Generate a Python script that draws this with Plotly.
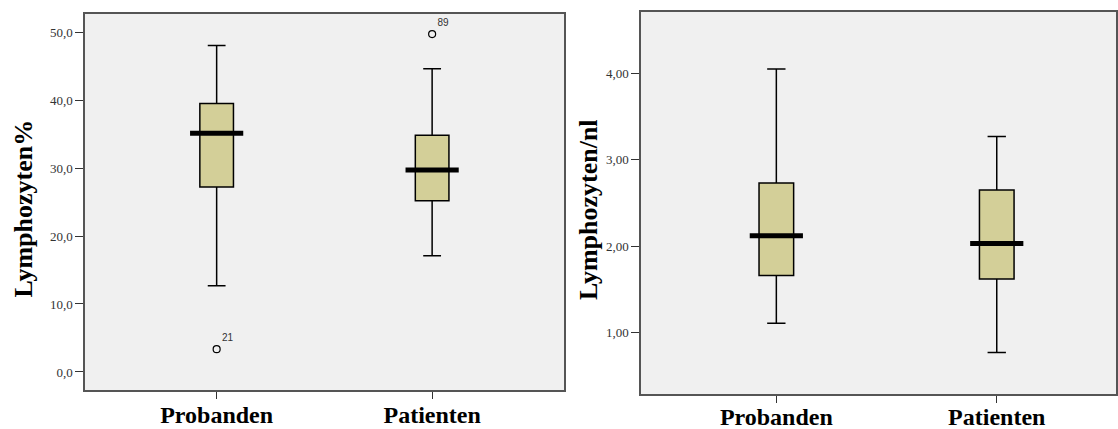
import plotly.graph_objects as go

# ---- data ----
categories = ["Probanden", "Patienten"]

# Left panel: Lymphozyten %
pct_lower = [12.7, 17.1]
pct_q1 = [27.2, 25.2]
pct_median = [35.1, 29.7]
pct_q3 = [39.5, 34.8]
pct_upper = [48.0, 44.6]
pct_outlier_cat = [0, 1]
pct_outlier_val = [3.35, 49.7]
pct_outlier_lbl = ["21", "89"]
pct_ticks = [0, 10, 20, 30, 40, 50]
pct_ticktext = ["0,0", "10,0", "20,0", "30,0", "40,0", "50,0"]

# Right panel: Lymphozyten / nl
abs_lower = [1.11, 0.77]
abs_q1 = [1.66, 1.62]
abs_median = [2.12, 2.03]
abs_q3 = [2.73, 2.65]
abs_upper = [4.05, 3.27]
abs_ticks = [1, 2, 3, 4]
abs_ticktext = ["1,00", "2,00", "3,00", "4,00"]

BOX_FILL = "#D3CF98"
BG = "#F0F0F0"
SERIF = "Liberation Serif, Times New Roman, serif"

fig = go.Figure()
xpos = [0, 1]


def add_panel(xa, ya, lo, q1, med, q3, hi, width):
    fig.add_trace(go.Box(
        x=xpos, q1=q1, median=med, q3=q3, lowerfence=lo, upperfence=hi,
        xaxis=xa, yaxis=ya, width=width, whiskerwidth=0.53,
        fillcolor=BOX_FILL, line=dict(color="black", width=1.5),
        boxpoints=False, hoverinfo="skip", showlegend=False))
    fig.add_trace(go.Scatter(
        x=xpos, y=med, xaxis=xa, yaxis=ya, mode="markers",
        marker=dict(symbol="line-ew", size=38,
                    line=dict(color="black", width=5)),
        hoverinfo="skip", showlegend=False))


add_panel("x", "y", pct_lower, pct_q1, pct_median, pct_q3, pct_upper, 0.156)
add_panel("x2", "y2", abs_lower, abs_q1, abs_median, abs_q3, abs_upper, 0.157)

fig.add_trace(go.Scatter(
    x=pct_outlier_cat, y=pct_outlier_val, xaxis="x", yaxis="y",
    mode="markers+text", text=pct_outlier_lbl, textposition="top right",
    textfont=dict(family="Liberation Sans, Arial, sans-serif", size=10, color="#333"),
    marker=dict(symbol="circle-open", size=7, color="black", line=dict(width=1.2)),
    hoverinfo="skip", showlegend=False))

axis_common = dict(showgrid=False, zeroline=False, showline=True, mirror=True,
                   linecolor="#555", linewidth=1.5, ticks="outside",
                   tickcolor="#333", tickwidth=1.2, automargin=False)

xfont = dict(family=SERIF, size=24, color="black", weight="bold")
yfont = dict(family=SERIF, size=13, color="#333")

fig.update_layout(
    width=1118, height=429, margin=dict(l=0, r=0, t=0, b=0),
    paper_bgcolor="white", plot_bgcolor=BG,
    xaxis=dict(domain=[85 / 1118, 564 / 1118], range=[-0.611, 1.612],
               tickvals=xpos, ticktext=categories, ticklen=7,
               tickfont=xfont, ticklabelstandoff=-5, **axis_common),
    yaxis=dict(domain=[1 - 390 / 429, 1 - 14 / 429], range=[-2.65, 52.65],
               tickvals=pct_ticks, ticktext=pct_ticktext, ticklen=8,
               tickfont=yfont, **axis_common),
    xaxis2=dict(domain=[641 / 1118, 1116 / 1118], range=[-0.614, 1.541],
                anchor="y2", tickvals=xpos, ticktext=categories, ticklen=7,
                tickfont=xfont, ticklabelstandoff=-7, **axis_common),
    yaxis2=dict(domain=[1 - 394 / 429, 1 - 12 / 429], range=[0.29, 4.71],
                anchor="x2", tickvals=abs_ticks, ticktext=abs_ticktext, ticklen=8,
                tickfont=yfont, **axis_common),
    annotations=[
        dict(text="<b>Lymphozyten%</b>", xref="paper", yref="paper",
             x=22.5 / 1118, y=1 - 209 / 429, textangle=-90, showarrow=False,
             xanchor="center", yanchor="middle",
             font=dict(family=SERIF, size=26, color="black")),
        dict(text="<b>Lymphozyten/nl</b>", xref="paper", yref="paper",
             x=588 / 1118, y=1 - 210 / 429, textangle=-90, showarrow=False,
             xanchor="center", yanchor="middle",
             font=dict(family=SERIF, size=26, color="black")),
    ],
)

fig.write_html("out.html", config={"displayModeBar": False},
               post_script="document.body.style.margin='0px';document.body.style.overflow='hidden';")
